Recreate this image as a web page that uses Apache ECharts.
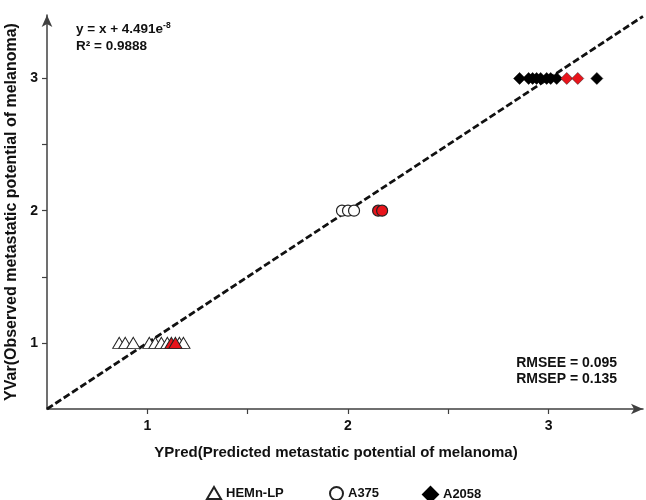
<!DOCTYPE html>
<html><head><meta charset="utf-8">
<script src="https://cdn.jsdelivr.net/npm/echarts@6/dist/echarts.min.js"></script>
<style>html,body{margin:0;padding:0;background:#fff}#c{width:646px;height:500px}</style>
</head><body><div id="c"></div>
<script>
// Data
const hemnX = [0.86, 0.89, 0.93, 1.01, 1.04, 1.07, 1.10, 1.16, 1.18];
const hemnY = [1, 1, 1, 1, 1, 1, 1, 1, 1];
const hemnRedX = [1.12, 1.14];
const hemnRedY = [1, 1];
const a375X = [1.97, 2.00, 2.03];
const a375Y = [2, 2, 2];
const a375RedX = [2.15, 2.17];
const a375RedY = [2, 2];
const a2058X = [2.855, 2.90, 2.92, 2.94, 2.96, 2.99, 3.01, 3.04, 3.24];
const a2058Y = [3, 3, 3, 3, 3, 3, 3, 3, 3];
const a2058RedX = [3.09, 3.145];
const a2058RedY = [3, 3];
const fitLineX = [0.5, 3.47];
const fitLineY = [0.5, 3.47];
const tickValues = [1, 1.5, 2, 2.5, 3];
const labelValues = [1, 2, 3];

const RED = '#e8141b';
const FONT = 'Liberation Sans, Arial, sans-serif';
function pts(xs, ys){ return xs.map((x,i)=>[x, ys[i]]); }
function redPts(xs, ys){ return xs.map((x,i)=>({value:[x, ys[i]], itemStyle:{color:RED, borderColor:'#222'}})); }

const chart = echarts.init(document.getElementById('c'), null, {renderer:'canvas'});
const axisCommon = {
  type:'value', min:0.5, interval:0.5,
  splitLine:{show:false},
  axisLine:{show:true, lineStyle:{color:'#404040', width:1.5}, symbol:['none','arrow'], symbolSize:[8,12]},
  axisTick:{show:true, customValues:tickValues, length:5, lineStyle:{color:'#404040', width:1.2}},
  axisLabel:{customValues:labelValues, fontFamily:FONT, fontWeight:'bold', fontSize:14, color:'#111'},
  nameTextStyle:{fontFamily:FONT, fontWeight:'bold', fontSize:15, color:'#111'}
};
const legendText = {fontFamily:FONT, fontWeight:'bold', fontSize:13, color:'#111'};
chart.setOption({
  animation:false,
  textStyle:{fontFamily:FONT},
  grid:{left:47, right:3, top:15, bottom:91, containLabel:false, outerBoundsMode:'none'},
  xAxis:Object.assign({}, axisCommon, {max:3.47,
    name:'YPred(Predicted metastatic potential of melanoma)', nameLocation:'middle', nameGap:36,
    nameTextStyle:Object.assign({}, axisCommon.nameTextStyle, {padding:[0,18,0,0]}),
    axisLabel:Object.assign({}, axisCommon.axisLabel, {margin:10})}),
  yAxis:Object.assign({}, axisCommon, {max:3.48,
    name:'YVar(Observed metastatic potential of melanoma)', nameLocation:'middle', nameGap:25,
    nameTextStyle:Object.assign({}, axisCommon.nameTextStyle, {fontSize:16}),
    axisLabel:Object.assign({}, axisCommon.axisLabel, {margin:9})}),
  legend:[
    {data:['HEMn-LP'], left:201, top:481, itemWidth:14, itemHeight:12, textStyle:legendText},
    {data:['A375'], left:324, top:481, itemWidth:13, itemHeight:13, textStyle:legendText},
    {data:['A2058'], left:417, top:481, itemWidth:15, itemHeight:15, textStyle:legendText}
  ],
  series:[
    {type:'line', name:'fit', data:pts(fitLineX, fitLineY), symbol:'none', silent:true,
     lineStyle:{color:'#111', width:2.8, type:[7,3]}, z:1},
    {type:'scatter', name:'HEMn-LP', symbol:'triangle', symbolSize:[13,11],
     itemStyle:{color:'#fff', borderColor:'#222', borderWidth:1, opacity:1},
     data:pts(hemnX, hemnY).concat(redPts(hemnRedX, hemnRedY)), z:3},
    {type:'scatter', name:'A375', symbol:'circle', symbolSize:11,
     itemStyle:{color:'#fff', borderColor:'#222', borderWidth:1.2, opacity:1},
     data:pts(a375X, a375Y).concat(redPts(a375RedX, a375RedY)), z:3},
    {type:'scatter', name:'A2058', symbol:'diamond', symbolSize:[12,12],
     itemStyle:{color:'#000', borderColor:'#000', borderWidth:0.5, opacity:1},
     data:pts(a2058X, a2058Y).concat(redPts(a2058RedX, a2058RedY)), z:3}
  ],
  graphic:[
    {type:'text', left:76, top:21, style:{
      rich:{b:{fontFamily:FONT, fontWeight:'bold', fontSize:13.5, fill:'#111'},
            s:{fontFamily:FONT, fontWeight:'bold', fontSize:8.5, fill:'#111', verticalAlign:'top', padding:[0,0,7,0]}},
      text:'{b|y = x + 4.491e}{s|-8}'}},
    {type:'text', left:76, top:39, style:{text:'R² = 0.9888', font:'bold 13.5px '+FONT, fill:'#111'}},
    {type:'text', right:29, top:356, style:{text:'RMSEE = 0.095', font:'bold 14px '+FONT, fill:'#111'}},
    {type:'text', right:29, top:372, style:{text:'RMSEP = 0.135', font:'bold 14px '+FONT, fill:'#111'}}
  ]
});
</script></body></html>
